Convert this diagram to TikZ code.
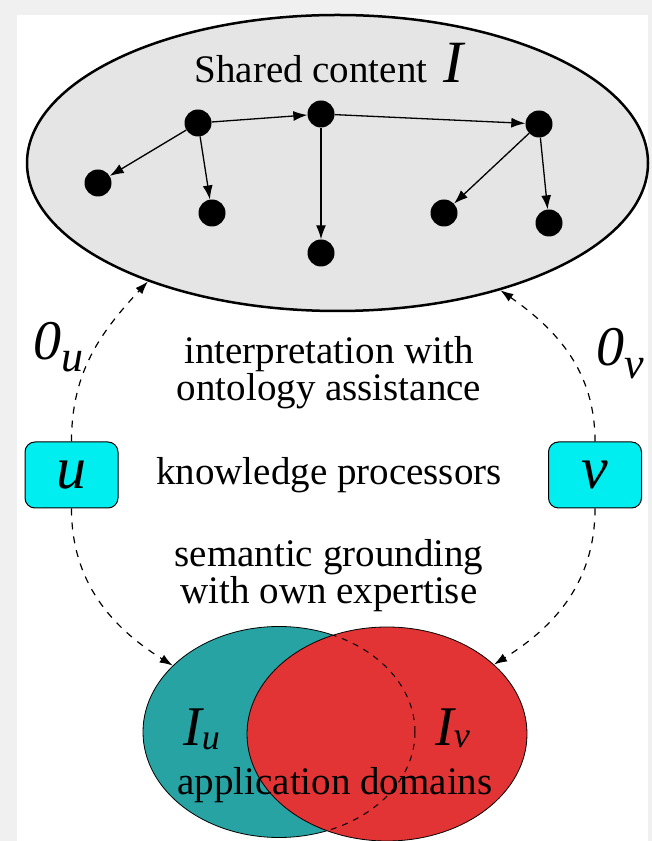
\documentclass[tikz,border=0pt]{standalone}
\usepackage{fontspec}
\setmainfont{Liberation Serif}
\usepackage{xcolor}
\usetikzlibrary{shapes.geometric,arrows.meta}

\definecolor{pagegray}{RGB}{240,240,240}
\definecolor{sharedgray}{RGB}{229,229,229}
\definecolor{procyan}{RGB}{0,238,240}
\definecolor{domteal}{RGB}{40,163,163}
\definecolor{domred}{RGB}{226,52,52}

\newcommand{\bigsym}[2][58]{{\fontsize{#1}{#1}\selectfont\itshape #2}}
\newcommand{\withsub}[4]{\bigsym[56]{#1}\raisebox{-#4pt}{\fontsize{#3}{#3}\selectfont\itshape #2}}

\begin{document}
\begin{tikzpicture}[x=1pt, y=1pt,
  dot/.style={circle, fill=black, minimum size=27pt, inner sep=0pt},
  link/.style={line width=1.3pt, -{Latex[length=14pt,width=10pt]}},
  proc/.style={draw=black, line width=1pt, fill=procyan, rounded corners=10pt,
    minimum width=93pt, minimum height=66pt, inner sep=0pt},
  interp/.style={dash pattern=on 7pt off 7pt, line width=1.2pt, -{Latex[length=13pt,width=9pt]}},
  txt/.style={font=\fontsize{39}{37}\selectfont, align=center, inner sep=0pt}]

\useasboundingbox (0,0) rectangle (652,841);
\fill[pagegray] (0,0) rectangle (652,841);
\fill[white] (17,0) rectangle (648,826);

% shared content
\node[ellipse, draw, line width=2.5pt, fill=sharedgray, minimum width=621pt,
  minimum height=296pt, inner sep=0pt] (shared) at (337.5,678) {};
\node[txt, anchor=base] (title) at (329,758) {Shared content\hspace{16pt}\bigsym[60]{I}};

\node[dot] (A) at (198,718) {};
\node[dot] (B) at (321,727) {};
\node[dot] (C) at (539,717) {};
\node[dot] (D) at (98,658) {};
\node[dot] (E) at (212,628) {};
\node[dot] (F) at (321,588) {};
\node[dot] (G) at (444,628) {};
\node[dot] (H) at (549,618) {};

\draw[link] (A) -- (B);
\draw[link] (B) -- (C);
\draw[link] (A) -- (D);
\draw[link] (A) -- (E);
\draw[link] (B) -- (F);
\draw[link] (C) -- (G);
\draw[link] (C) -- (H);

% knowledge processors
\node[proc] (u) at (71.5,366) {\bigsym[60]{u}};
\node[proc] (v) at (595,366) {\bigsym[60]{v}};

\node[txt] (interpr) at (329,468.5) {interpretation with\\ontology assistance};
\node[txt, anchor=base] (know) at (329,356) {knowledge processors};
\node[txt] (ground) at (329,265) {semantic grounding\\with own expertise};

\node[inner sep=0pt, anchor=base west] (Ou) at (33,481) {\withsub{0}{u}{44}{12}};
\node[inner sep=0pt, anchor=base west] (Ov) at (596,475) {\withsub{0}{v}{44}{13}};

% application domains
\node[ellipse, draw, line width=0.8pt, fill=domteal, minimum width=272pt,
  minimum height=211pt, inner sep=0pt] (domU) at (279,109) {};
\node[ellipse, draw, line width=0.8pt, fill=domred, minimum width=280pt,
  minimum height=214pt, inner sep=0pt] (domV) at (387,107) {};
\begin{scope}
  \clip (387,107) ellipse [x radius=140, y radius=107];
  \draw[line width=1pt, dash pattern=on 6pt off 6pt] (279,109) ellipse [x radius=136, y radius=105.5];
\end{scope}

\node[inner sep=0pt, anchor=base west] (Iu) at (183,95) {\withsub{I}{u}{36}{4}};
\node[inner sep=0pt, anchor=base west] (Iv) at (435,95) {\withsub{I}{v}{36}{2}};
\node[txt, anchor=base] (apps) at (335,46) {application domains};

\draw[interp] (u.north) to[out=90, in=227] (shared.212);
\draw[interp] (u.south) to[out=-90, in=148] (domU.148);
\draw[interp] (v.north) to[out=90, in=-35] (shared.322);
\draw[interp] (v.south) to[out=-90, in=32] (domV.33);
\end{tikzpicture}
\end{document}
